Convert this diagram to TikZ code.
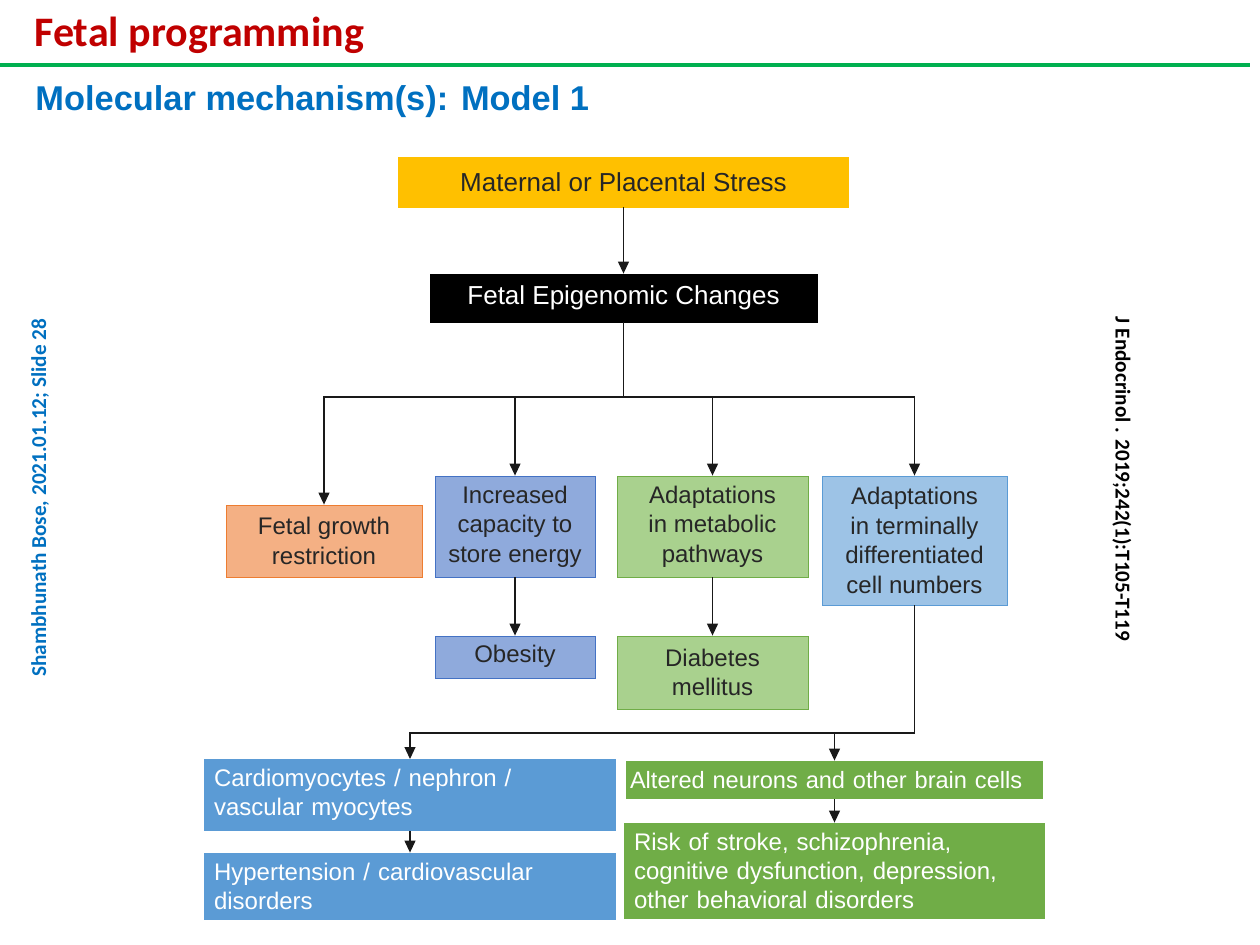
\documentclass[tikz,border=0pt]{standalone}
\usepackage{fontspec}
\setmainfont{Liberation Sans}
\newfontfamily\calibri{Carlito}
\usepackage{xcolor}
\usepackage{tikz}
\usetikzlibrary{arrows.meta, positioning}
\definecolor{fpred}{HTML}{C00000}
\definecolor{fpgreen}{HTML}{00B050}
\definecolor{fpblue}{HTML}{0070C0}
\definecolor{fpyellow}{HTML}{FFC000}
\definecolor{fpsalmon}{HTML}{F4B084}
\definecolor{fporange}{HTML}{ED7D31}
\definecolor{fpperi}{HTML}{8FAADC}
\definecolor{fpperiline}{HTML}{4472C4}
\definecolor{fplime}{HTML}{A9D18E}
\definecolor{fpgrass}{HTML}{70AD47}
\definecolor{fpsky}{HTML}{9DC3E6}
\definecolor{fpsteel}{HTML}{5B9BD5}

\begin{document}
\begin{tikzpicture}[
  x=0.5pt, y=-0.5pt,
  >={Triangle[length=6pt,width=5.5pt]},
  box/.style={draw, inner sep=0pt, align=center, font=\fontsize{12}{14.75}\selectfont, text=black!85},
  whitebox/.style={inner sep=5pt, align=left, anchor=center, text=white, font=\fontsize{12}{14.4}\selectfont},
  link/.style={->, black!90, semithick},
  trunk/.style={black!90, thick}
]
\useasboundingbox (0,0) rectangle (1260,945);

% Header
\node[anchor=west, inner sep=0pt, text=fpred, font=\calibri\bfseries\fontsize{21}{24}\selectfont] (title) at (34,35) {Fetal programming};
\draw[fpgreen, line width=2pt] (0,65) -- (1250,65);
\node[anchor=west, inner sep=0pt, text=fpblue, font=\bfseries\fontsize{17.2}{20}\selectfont] (subtitle) at (35,102) {Molecular mechanism(s): Model 1};

% Side notes
\node[rotate=90, inner sep=0pt, text=fpblue, font=\calibri\bfseries\fontsize{10.6}{12}\selectfont] (credit) at (40,498) {Shambhunath Bose, 2021.01.12; Slide 28};
\node[rotate=-90, inner sep=0pt, text=black, font=\calibri\bfseries\fontsize{10.6}{12}\selectfont] (source) at (1122,479) {J Endocrinol . 2019;242(1):T105-T119};

% Top of the cascade
\node[box, draw=fpyellow, fill=fpyellow, minimum width=225pt, minimum height=25pt, font=\fontsize{13}{15}\selectfont] (stress) at (623.5,182) {Maternal or Placental Stress};
\node[box, fill=black, text=white, minimum width=193.5pt, minimum height=24pt, font=\fontsize{13}{15}\selectfont] (epi) at (623.5,298) {Fetal Epigenomic Changes};

% First level outcomes
\node[box, draw=fporange, fill=fpsalmon, minimum width=98pt, minimum height=36pt] (fgr) at (324,541) {Fetal growth\\restriction};
\node[box, draw=fpperiline, fill=fpperi, minimum width=80pt, minimum height=50.5pt] (store) at (515,526.5) {Increased\\capacity to\\store energy};
\node[box, draw=fpgrass, fill=fplime, minimum width=95.5pt, minimum height=50.5pt] (metab) at (712.5,526.5) {Adaptations\\in metabolic\\pathways};
\node[box, draw=fpsteel, fill=fpsky, minimum width=92.5pt, minimum height=64.5pt] (cells) at (914.5,540.5) {Adaptations\\in terminally\\differentiated\\cell numbers};

% Second level outcomes
\node[box, draw=fpperiline, fill=fpperi, minimum width=80pt, minimum height=21pt] (obesity) at (515,657) {Obesity\strut};
\node[box, draw=fpgrass, fill=fplime, minimum width=95.5pt, minimum height=36.5pt] (diabetes) at (712.5,672.5) {Diabetes\\mellitus};

% Bottom row
\node[whitebox, fill=fpsteel, text width=196pt, minimum height=34pt] (cardio) at (410,795) {Cardiomyocytes / nephron /\\vascular myocytes};
\node[whitebox, fill=fpsteel, text width=196pt, minimum height=33.5pt] (hyper) at (410,886.5) {Hypertension / cardiovascular\\disorders};
\node[whitebox, fill=fpgrass, text width=204.5pt, minimum height=19pt, inner xsep=2pt, inner ysep=0pt, font=\fontsize{11.8}{14}\selectfont] (neurons) at (834.5,780) {Altered neurons and other brain cells};
\node[whitebox, fill=fpgrass, text width=200.5pt, minimum height=48pt] (risk) at (834.5,871) {Risk of stroke, schizophrenia,\\cognitive dysfunction, depression,\\other behavioral disorders};

% Connectors
\coordinate (split1) at (623.5,397);
\coordinate (split2) at (914.5,733);
\draw[link] (stress) -- (epi);
\draw[trunk] (epi) -- (split1);
\draw[link] (split1) -| (fgr);
\draw[link] (split1) -| (store);
\draw[link] (split1) -| (metab);
\draw[link] (split1) -| (cells);
\draw[link] (store) -- (obesity);
\draw[link] (metab) -- (diabetes);
\draw[trunk] (cells) -- (split2);
\draw[link] (split2) -| (cardio);
\draw[link] (split2) -| (neurons);
\draw[link] (cardio) -- (hyper);
\draw[link] (neurons) -- (risk);

\end{tikzpicture}
\end{document}
